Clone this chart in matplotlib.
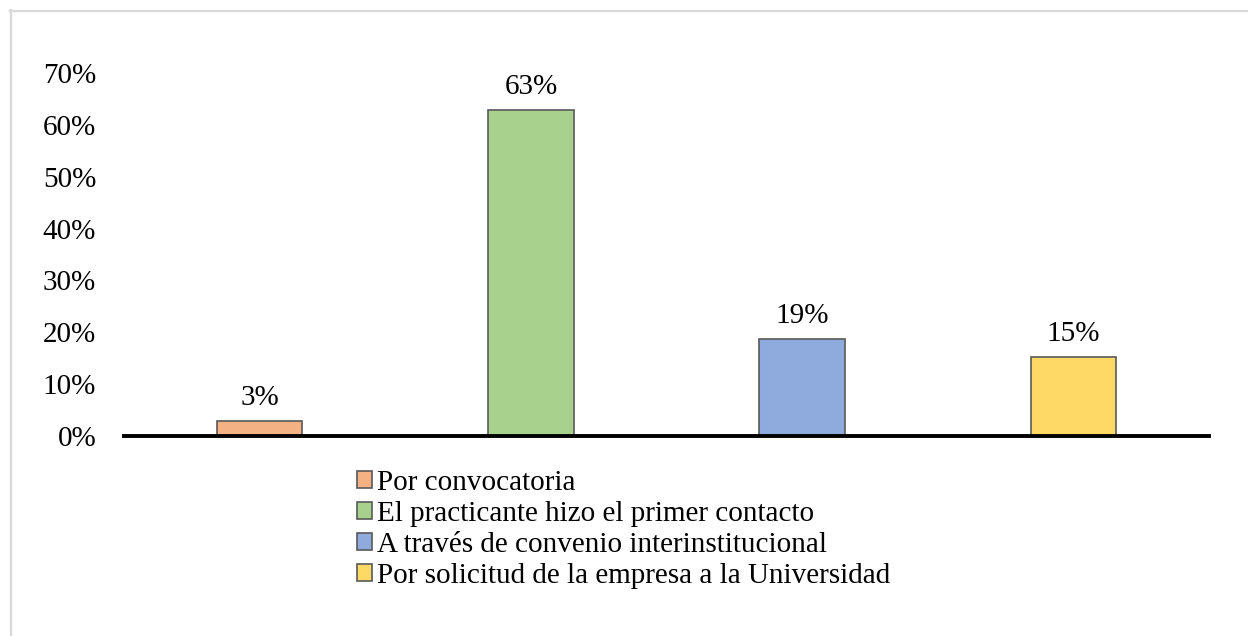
import matplotlib
matplotlib.use("Agg")
import matplotlib.pyplot as plt
from matplotlib.lines import Line2D
from matplotlib.patches import Patch
from matplotlib.ticker import FuncFormatter

categories = ["Por convocatoria",
              "El practicante hizo el primer contacto",
              "A través de convenio interinstitucional",
              "Por solicitud de la empresa a la Universidad"]
values = [0.029, 0.628, 0.187, 0.152]
labels = ["3%", "63%", "19%", "15%"]
colors = ["#F4B183", "#A9D18E", "#8FAADC", "#FFD966"]
yticks = [0, 0.1, 0.2, 0.3, 0.4, 0.5, 0.6, 0.7]

plt.rcParams['font.family'] = ['Liberation Serif', 'DejaVu Serif']
FS = 21

W, H = 1248, 636
fig = plt.figure(figsize=(W / 100, H / 100), dpi=100)
ax = fig.add_axes([124 / W, 1 - 436 / H, (1209 - 124) / W, (436 - 73) / H])

x = list(range(len(categories)))
bars = ax.bar(x, values, width=0.315, color=colors, edgecolor="#595959", linewidth=1.2, zorder=2)
for xi, v, lab in zip(x, values, labels):
    ax.text(xi, v + 0.019, lab, ha="center", va="bottom", fontsize=FS)

ax.set_xlim(-0.5, 3.5)
ax.set_ylim(0, 0.7)
ax.set_yticks(yticks)
ax.yaxis.set_major_formatter(FuncFormatter(lambda v, p: f"{v*100:.0f}%"))
ax.tick_params(axis="y", length=0, labelsize=FS, pad=20)
ax.set_xticks([])
for s in ["top", "right", "left"]:
    ax.spines[s].set_visible(False)
ax.spines["bottom"].set_linewidth(2.8)
ax.spines["bottom"].set_color("black")
ax.spines["bottom"].set_zorder(3)

handles = [Patch(facecolor=c, edgecolor="#595959", linewidth=1.2) for c in colors]
leg = fig.legend(handles, categories, loc="upper left",
                 bbox_to_anchor=(357 / W, 1 - 470 / H), frameon=False,
                 fontsize=FS, handlelength=0.5, handleheight=0.5,
                 handletextpad=0.18, labelspacing=0.17, borderaxespad=0, borderpad=0)

fig.add_artist(Line2D([10 / W, 1], [1 - 11 / H, 1 - 11 / H], color="#D9D9D9", lw=1.6, transform=fig.transFigure))
fig.add_artist(Line2D([11 / W, 11 / W], [1 - 10 / H, 0], color="#D9D9D9", lw=1.6, transform=fig.transFigure))

fig.savefig("out.png", dpi=100)
